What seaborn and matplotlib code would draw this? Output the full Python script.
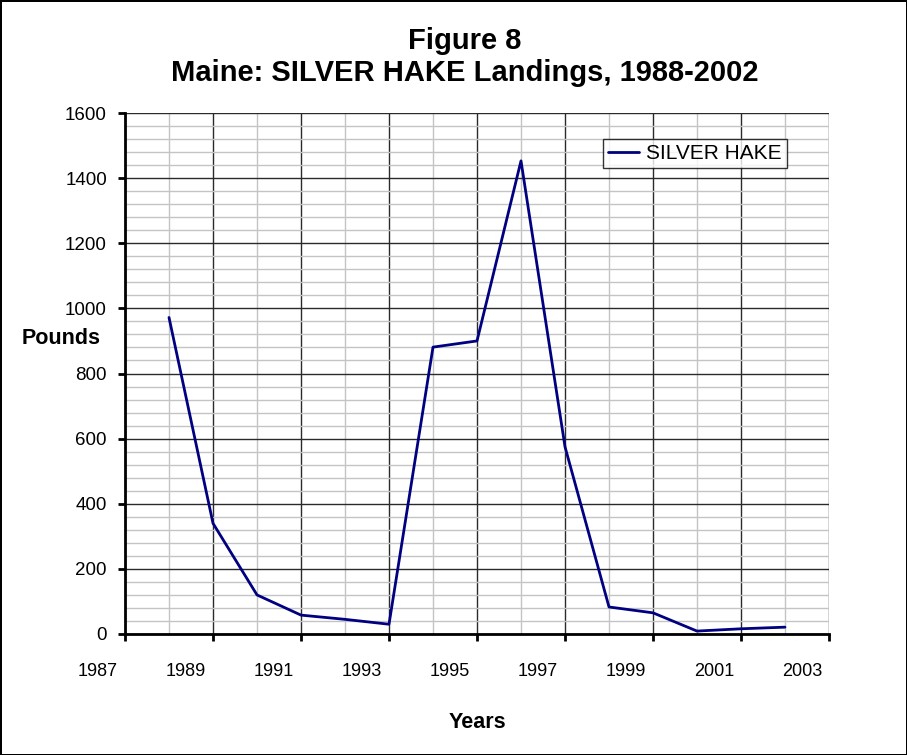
import numpy as np
import pandas as pd
import matplotlib
matplotlib.use("Agg")
import matplotlib.pyplot as plt
import matplotlib.transforms as mtransforms
from matplotlib.ticker import MultipleLocator, FixedLocator
import seaborn as sns

years = [1988, 1989, 1990, 1991, 1992, 1993, 1994, 1995, 1996, 1997, 1998, 1999, 2000, 2001, 2002]
pounds = [972, 340, 120, 58, 45, 30, 881, 900, 1453, 575, 83, 65, 9, 16, 21]
x_ticks = [1987, 1989, 1991, 1993, 1995, 1997, 1999, 2001, 2003]
x_tick_labels = ["1987", "1989", "1991", "1993", "1995", "1997", "1999", "2001", "2003"]
y_ticks = [0, 200, 400, 600, 800, 1000, 1200, 1400, 1600]
series_name = "SILVER HAKE"
title_text = "Figure 8\nMaine: SILVER HAKE Landings, 1988-2002"
x_label = "Years"
y_label = "Pounds"

sns.set_style("white")
plt.rcParams['font.family'] = ['Liberation Sans', 'DejaVu Sans']
plt.rcParams['text.color'] = 'black'
plt.rcParams['axes.labelcolor'] = 'black'
plt.rcParams['xtick.color'] = 'black'
plt.rcParams['ytick.color'] = 'black'

W, H = 907, 755
fig = plt.figure(figsize=(W / 100, H / 100), dpi=100)
fig.patch.set_facecolor('white')
fig.patch.set_edgecolor('black')
fig.patch.set_linewidth(2)

ax = fig.add_axes([125 / W, (H - 634) / H, 704 / W, 521 / H])

df = pd.DataFrame({"Year": years, "Pounds": pounds})
sns.lineplot(data=df, x="Year", y="Pounds", ax=ax, color="#000080", linewidth=2.0,
             label=series_name, zorder=5)

ax.set_xlim(x_ticks[0], x_ticks[-1])
ax.set_ylim(y_ticks[0], y_ticks[-1])
ax.xaxis.set_major_locator(FixedLocator(x_ticks))
ax.xaxis.set_minor_locator(MultipleLocator(1))
ax.yaxis.set_major_locator(FixedLocator(y_ticks))
ax.yaxis.set_minor_locator(MultipleLocator(40))
ax.set_xticklabels(x_tick_labels)

ax.grid(which='minor', color='#c4c4c4', linewidth=1.0, zorder=0)
ax.grid(which='major', color='#2a2a2a', linewidth=1.0, zorder=1)
ax.set_axisbelow(True)

for s in ['top', 'right']:
    ax.spines[s].set_visible(False)
for s in ['left', 'bottom']:
    ax.spines[s].set_color('black')
    ax.spines[s].set_linewidth(2)
    ax.spines[s].set_zorder(6)

ax.tick_params(axis='x', which='major', direction='out', length=5, width=2,
               color='black', labelcolor='black', labelsize=13, pad=16, bottom=True)
ax.tick_params(axis='y', which='major', direction='out', length=5, width=2,
               color='black', labelcolor='black', labelsize=13.5, pad=8, left=True)
ax.tick_params(which='minor', length=0)

offset = mtransforms.ScaledTranslation(-27 / 100, 0, fig.dpi_scale_trans)
for lab in ax.get_xticklabels():
    lab.set_transform(lab.get_transform() + offset)

ax.set_xlabel(x_label, fontsize=15.5, fontweight='bold', color='black')
ax.xaxis.set_label_coords(0.5, (634 - 722) / 521)
ax.xaxis.label.set_va('center')
ax.set_ylabel(y_label, fontsize=15.5, fontweight='bold', rotation=0, ha='center',
              va='center', color='black')
ax.yaxis.set_label_coords((61 - 125) / 704, (634 - 338) / 521)

fig.text(465 / W, 1 - 57 / H, title_text, ha='center', va='center', fontsize=21,
         fontweight='bold', linespacing=1.2, color='black')

leg = ax.legend(loc='upper left', bbox_to_anchor=(603 / W, 1 - 139 / H),
                bbox_transform=fig.transFigure, frameon=True, fancybox=False,
                edgecolor='black', fontsize=15, handlelength=1.5, handletextpad=0.3,
                borderpad=0.25, borderaxespad=0)
leg.get_frame().set_linewidth(1.0)
for t in leg.get_texts():
    t.set_color('black')

fig.savefig("out.png", dpi=100, facecolor='white', edgecolor='black')
